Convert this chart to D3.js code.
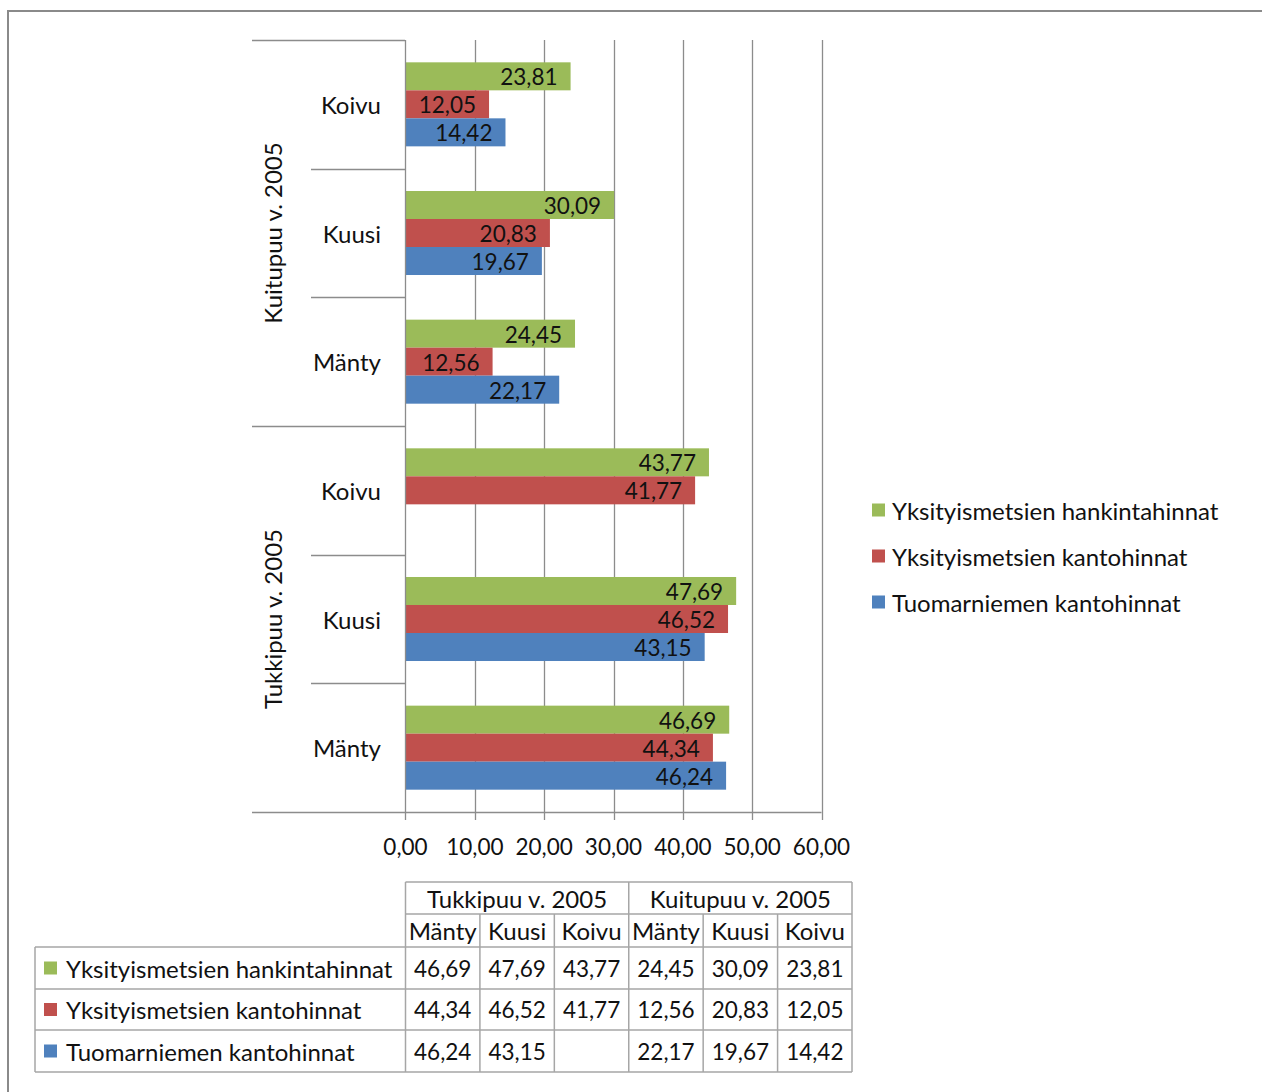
<!DOCTYPE html>
<html><head><meta charset="utf-8">
<script src="https://cdn.jsdelivr.net/npm/d3@7/dist/d3.min.js"></script>
<style>
html,body{margin:0;padding:0;background:#fff;}
svg{display:block;font-family:Lato,"Open Sans",sans-serif;}
</style></head>
<body>
<svg id="chart" width="1262" height="1092"></svg>
<script>
// ---- data ----
const groups = ["Tukkipuu v. 2005", "Kuitupuu v. 2005"];
const species = ["Mänty", "Kuusi", "Koivu"];
const seriesNames = ["Yksityismetsien hankintahinnat", "Yksityismetsien kantohinnat", "Tuomarniemen kantohinnat"];
const seriesColors = ["#9BBB59", "#C0504D", "#4F81BD"];
// values in order: Tukkipuu Mänty, Kuusi, Koivu, Kuitupuu Mänty, Kuusi, Koivu
const hankinta = [46.69, 47.69, 43.77, 24.45, 30.09, 23.81];
const kanto = [44.34, 46.52, 41.77, 12.56, 20.83, 12.05];
const tuomarniemi = [46.24, 43.15, null, 22.17, 19.67, 14.42];
const xTicks = [0, 10, 20, 30, 40, 50, 60];

const seriesValues = [hankinta, kanto, tuomarniemi];
const fmt = v => v == null ? "" : v.toFixed(2).replace(".", ",");

const cats = [];
groups.forEach((g, gi) => species.forEach((s, si) => cats.push({id: gi * 3 + si, group: g, name: s})));

const svg = d3.select("#chart");
const FS = 22.5;   // numbers
const FT = 24;     // words
const ink = "#111";
const gridCol = "#8c8c8c";

// outer border
svg.append("rect").attr("x", 8).attr("y", 11).attr("width", 1300).attr("height", 1200)
  .attr("fill", "none").attr("stroke", "#8a8a8a").attr("stroke-width", 2);

const x = d3.scaleLinear().domain([0, 60]).range([405.5, 821.5]);
// categories from top to bottom: reverse order (Excel bar chart)
const yCat = d3.scaleBand().domain(cats.map(c => c.id).reverse()).range([40, 812])
  .paddingInner(0.347).paddingOuter(0.1735);
const ySer = d3.scaleBand().domain([0, 1, 2]).range([0, yCat.bandwidth()]);
const step = yCat.step();
const catTop = id => yCat(id) - yCat.paddingInner() * step / 2;

// gridlines + ticks
svg.append("g").selectAll("line").data(xTicks.slice(1)).join("line")
  .attr("x1", d => Math.round(x(d)) + 0.5).attr("x2", d => Math.round(x(d)) + 0.5)
  .attr("y1", 40).attr("y2", 820).attr("stroke", gridCol).attr("stroke-width", 1.3);

// bars
const barData = [];
cats.forEach(c => seriesValues.forEach((arr, si) => {
  if (arr[c.id] != null) barData.push({cat: c.id, s: si, v: arr[c.id]});
}));
svg.append("g").selectAll("rect").data(barData).join("rect")
  .attr("x", x(0)).attr("y", d => yCat(d.cat) + ySer(d.s))
  .attr("width", d => x(d.v) - x(0)).attr("height", ySer.bandwidth())
  .attr("fill", d => seriesColors[d.s]);

// data labels
svg.append("g").selectAll("text").data(barData).join("text")
  .attr("x", d => x(d.v) - 13).attr("y", d => yCat(d.cat) + ySer(d.s) + ySer.bandwidth() / 2 + 0.5)
  .attr("text-anchor", "end").attr("dominant-baseline", "central")
  .attr("font-size", FS).attr("fill", ink).text(d => fmt(d.v));

// axes lines
svg.append("line").attr("x1", 405.5).attr("x2", 405.5).attr("y1", 40).attr("y2", 820)
  .attr("stroke", gridCol).attr("stroke-width", 1.3);
svg.append("line").attr("x1", 252).attr("x2", x(60)).attr("y1", 812.5).attr("y2", 812.5)
  .attr("stroke", gridCol).attr("stroke-width", 1.3);

// category dividers
const dividers = cats.map(c => ({y: catTop(c.id), long: c.id % 3 === 2}));
svg.append("g").selectAll("line").data(dividers).join("line")
  .attr("x1", d => d.long ? 252 : 311).attr("x2", 405)
  .attr("y1", d => Math.round(d.y) + 0.5).attr("y2", d => Math.round(d.y) + 0.5)
  .attr("stroke", gridCol).attr("stroke-width", 1.3);

// category labels
svg.append("g").selectAll("text").data(cats).join("text")
  .attr("x", 381).attr("y", c => yCat(c.id) + yCat.bandwidth() / 2)
  .attr("text-anchor", "end").attr("dominant-baseline", "central")
  .attr("font-size", FT).attr("fill", ink).text(c => c.name);

// group labels (rotated)
groups.forEach((g, gi) => {
  const ids = [gi * 3, gi * 3 + 1, gi * 3 + 2];
  const yc = d3.mean(ids, id => yCat(id) + yCat.bandwidth() / 2);
  svg.append("text").attr("transform", `translate(272,${yc}) rotate(-90)`)
    .attr("text-anchor", "middle").attr("dominant-baseline", "central")
    .attr("font-size", FT).attr("fill", ink).text(g);
});

// x tick labels
svg.append("g").selectAll("text").data(xTicks).join("text")
  .attr("x", d => x(d)).attr("y", 846).attr("text-anchor", "middle")
  .attr("dominant-baseline", "central").attr("font-size", FS).attr("fill", ink)
  .text(d => fmt(d));

// legend
const legend = svg.append("g");
seriesNames.forEach((n, i) => {
  const ly = 510 + i * 46;
  legend.append("rect").attr("x", 872).attr("y", ly - 6.5).attr("width", 13).attr("height", 13)
    .attr("fill", seriesColors[i]);
  legend.append("text").attr("x", 892).attr("y", ly).attr("dominant-baseline", "central")
    .attr("font-size", FT).attr("fill", ink).text(n);
});

// data table
const tcol = d3.scaleBand().domain(cats.map(c => c.id)).range([405.5, 852]);
const rowsY = [882, 914, 947, 989, 1030, 1072];
const tbl = svg.append("g");
const tLine = (x1, y1, x2, y2) => tbl.append("line").attr("x1", x1).attr("y1", y1).attr("x2", x2).attr("y2", y2)
  .attr("stroke", "#a6a6a6").attr("stroke-width", 1.5);
tLine(405.5, rowsY[0], 852, rowsY[0]);
tLine(405.5, rowsY[1], 852, rowsY[1]);
for (let i = 2; i < rowsY.length; i++) tLine(35, rowsY[i], 852, rowsY[i]);
tLine(35, rowsY[2], 35, rowsY[5]);
cats.forEach(c => {
  const xx = tcol(c.id);
  tLine(xx, c.id % 3 === 0 ? rowsY[0] : rowsY[1], xx, rowsY[5]);
});
tLine(852, rowsY[0], 852, rowsY[5]);
groups.forEach((g, gi) => {
  const x0 = tcol(gi * 3), x1 = tcol(gi * 3 + 2) + tcol.bandwidth();
  tbl.append("text").attr("x", (x0 + x1) / 2).attr("y", (rowsY[0] + rowsY[1]) / 2)
    .attr("text-anchor", "middle").attr("dominant-baseline", "central")
    .attr("font-size", FT).attr("fill", ink).text(g);
});
cats.forEach(c => {
  tbl.append("text").attr("x", tcol(c.id) + tcol.bandwidth() / 2).attr("y", (rowsY[1] + rowsY[2]) / 2)
    .attr("text-anchor", "middle").attr("dominant-baseline", "central")
    .attr("font-size", FT).attr("fill", ink).text(c.name);
});
seriesNames.forEach((n, si) => {
  const yc = (rowsY[2 + si] + rowsY[3 + si]) / 2;
  tbl.append("rect").attr("x", 44).attr("y", yc - 6.5).attr("width", 13).attr("height", 13)
    .attr("fill", seriesColors[si]);
  tbl.append("text").attr("x", 66).attr("y", yc).attr("dominant-baseline", "central")
    .attr("font-size", FT).attr("fill", ink).text(n);
  cats.forEach(c => {
    tbl.append("text").attr("x", tcol(c.id) + tcol.bandwidth() / 2).attr("y", yc)
      .attr("text-anchor", "middle").attr("dominant-baseline", "central")
      .attr("font-size", FS).attr("fill", ink).text(fmt(seriesValues[si][c.id]));
  });
});
</script>
</body></html>
